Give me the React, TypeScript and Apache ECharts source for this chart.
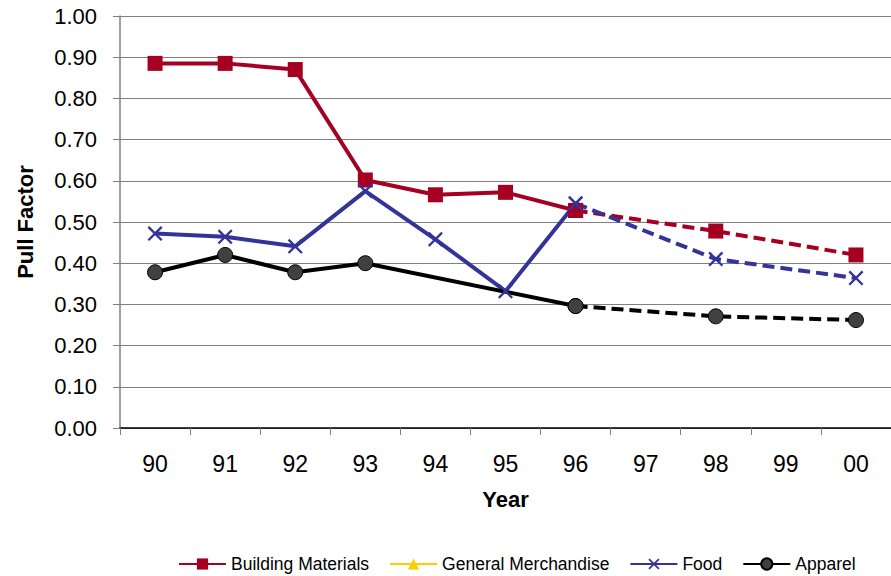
import React, { useEffect, useRef } from "react";
import * as echarts from "echarts";

const years = ["90", "91", "92", "93", "94", "95", "96", "97", "98", "99", "00"];
const buildingSolid = [0.885, 0.885, 0.87, 0.602, 0.566, 0.572, 0.528, null, null, null, null];
const buildingDashed = [null, null, null, null, null, null, 0.528, null, 0.478, null, 0.42];
const generalMerch = [null, null, null, null, null, null, null, null, null, null, null];
const foodSolid = [0.472, 0.464, 0.441, 0.575, 0.458, 0.332, 0.545, null, null, null, null];
const foodDashed = [null, null, null, null, null, null, 0.545, null, 0.41, null, 0.364];
const apparelSolid = [0.378, 0.42, 0.378, 0.4, null, null, 0.296, null, null, null, null];
const apparelDashed = [null, null, null, null, null, null, 0.296, null, 0.271, null, 0.262];
const legendNames = ["Building Materials", "General Merchandise", "Food", "Apparel"];

const RED = "#A50021";
const BLUE = "#333399";
const YELLOW = "#FFCC00";
const BLACK = "#000000";
const CROSS = "path://M0,1.1L1.1,0L10,8.9L8.9,10ZM8.9,0L10,1.1L1.1,10L0,8.9Z";

const FONT = "'Liberation Sans', Arial, sans-serif";

function lineSeries(name: string, data: (number | null)[], color: string, symbol: string, symbolSize: number, dashed: boolean, markerFill?: string, markerBorder?: string) {
  return {
    name,
    type: "line",
    data,
    connectNulls: true,
    symbol,
    symbolSize,
    showSymbol: true,
    lineStyle: { color, width: 4, type: dashed ? [12, 6] : "solid" },
    itemStyle: {
      color: markerFill || color,
      borderColor: markerBorder || color,
      borderWidth: markerBorder ? 1 : 0,
    },
    emphasis: { disabled: true },
  };
}

export default function App() {
  const ref = useRef<HTMLDivElement>(null);
  useEffect(() => {
    const chart = echarts.init(ref.current!, null, { renderer: "svg" });
    chart.setOption({
      animation: false,
      backgroundColor: "#ffffff",
      grid: { left: 120, top: 16, width: 771, height: 412, containLabel: false },
      legend: {
        data: legendNames,
        left: 173,
        top: 550,
        itemWidth: 47,
        itemHeight: 14,
        itemGap: 20,
        textStyle: { fontFamily: FONT, fontSize: 17.5, color: "#000" },
      },
      xAxis: {
        type: "category",
        data: years,
        boundaryGap: true,
        axisLine: { lineStyle: { color: "#000", width: 1.5 } },
        axisTick: { show: true, length: 7, lineStyle: { color: "#808080" }, alignWithLabel: false },
        axisLabel: { fontFamily: FONT, fontSize: 23, color: "#000", margin: 24 },
        name: "Year",
        nameLocation: "middle",
        nameGap: 60,
        nameTextStyle: { fontFamily: FONT, fontSize: 22, fontWeight: "bold", color: "#000" },
        splitLine: { show: false },
      },
      yAxis: {
        type: "value",
        min: 0,
        max: 1,
        interval: 0.1,
        axisLine: { show: true, lineStyle: { color: "#808080", width: 1.5 } },
        axisTick: { show: true, length: 7, lineStyle: { color: "#808080" } },
        axisLabel: {
          fontFamily: FONT,
          fontSize: 22,
          color: "#000",
          margin: 23,
          formatter: (v: number) => v.toFixed(2),
        },
        splitLine: { show: true, lineStyle: { color: "#808080", width: 1 } },
        name: "Pull Factor",
        nameLocation: "middle",
        nameGap: 84,
        nameRotate: 90,
        nameTextStyle: { fontFamily: FONT, fontSize: 22, fontWeight: "bold", color: "#000" },
      },
      series: [
        lineSeries("Building Materials", buildingSolid, RED, "rect", 15, false),
        lineSeries("Building Materials dashed", buildingDashed, RED, "rect", 15, true),
        lineSeries("General Merchandise", generalMerch, YELLOW, "triangle", 13, false),
        lineSeries("Food", foodSolid, BLUE, CROSS, 15, false),
        lineSeries("Food dashed", foodDashed, BLUE, CROSS, 15, true),
        lineSeries("Apparel", apparelSolid, BLACK, "circle", 15, false, "#404040", "#000"),
        lineSeries("Apparel dashed", apparelDashed, BLACK, "circle", 15, true, "#404040", "#000"),
      ],
    });
    return () => chart.dispose();
  }, []);
  return (
    <div
      ref={ref}
      style={{ position: "fixed", left: 0, top: 0, width: 891, height: 576, background: "#fff" }}
    />
  );
}
